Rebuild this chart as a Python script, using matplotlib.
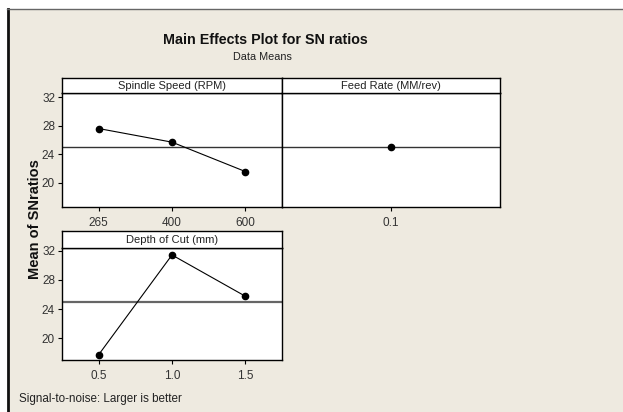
import matplotlib
matplotlib.use("Agg")
import matplotlib.pyplot as plt
from matplotlib.patches import Rectangle
from matplotlib.lines import Line2D

plt.rcParams['font.family'] = ['Liberation Sans', 'DejaVu Sans']

# ---- data ----
spindle_levels = ["265", "400", "600"]
spindle_sn = [27.6, 25.7, 21.6]
feed_levels = ["0.1"]
feed_sn = [24.97]
depth_levels = ["0.5", "1.0", "1.5"]
depth_sn = [17.7, 31.45, 25.76]
grand_mean = 24.97
yticks = [20, 24, 28, 32]

W, H = 623, 412
fig = plt.figure(figsize=(W / 100, H / 100), dpi=100)
fig.patch.set_facecolor('white')
BG = '#EEEAE0'

def fx(px):
    return px / W

def fy(py):
    return 1 - py / H

# beige background with frame lines (left dark, top gray)
fig.patches.append(Rectangle((fx(8), 0), 1 - fx(8), fy(9), transform=fig.transFigure,
                             facecolor=BG, edgecolor='none', zorder=-10))
fig.lines.append(Line2D([fx(8), fx(8)], [0, fy(8.5)], transform=fig.transFigure,
                        color='#111111', lw=2.0))
fig.lines.append(Line2D([fx(7), 1], [fy(8.5), fy(8.5)], transform=fig.transFigure,
                        color='#666666', lw=1.0))

def make_panel(x0, x1, ytop, yhead, ybot, levels, vals, title, ylim, show_y, mean_style):
    ax = fig.add_axes([fx(x0), fy(ybot), fx(x1 - x0), (ybot - yhead) / H])
    hx = fig.add_axes([fx(x0), fy(yhead), fx(x1 - x0), (yhead - ytop) / H])
    hx.set_xticks([]); hx.set_yticks([])
    hx.set_facecolor('white')
    for s in hx.spines.values():
        s.set_color('black'); s.set_linewidth(1.0)
    hx.text(0.5, 0.45, title, ha='center', va='center', fontsize=8, color='#222222',
            transform=hx.transAxes)
    pos = list(range(len(levels)))
    ax.axhline(grand_mean, color=mean_style[0], lw=mean_style[1], zorder=1)
    ax.plot(pos, vals, color='black', lw=0.8, marker='o', ms=4.5, zorder=3)
    n = len(levels)
    ax.set_xlim(-0.5, n - 0.5)
    ax.set_ylim(*ylim)
    ax.set_xticks(pos)
    ax.set_xticklabels(levels)
    ax.set_facecolor('white')
    for s in ax.spines.values():
        s.set_color('black'); s.set_linewidth(1.0)
    ax.tick_params(axis='x', direction='out', length=3, width=0.8, pad=4,
                   labelsize=8.5, labelcolor='#333333')
    if show_y:
        ax.set_yticks(yticks)
        ax.tick_params(axis='y', direction='out', length=3, width=0.8, pad=2,
                       labelsize=8.5, labelcolor='#333333')
    else:
        ax.set_yticks([])
    return ax

make_panel(62, 282, 78, 93, 207, spindle_levels, spindle_sn, "Spindle Speed (RPM)",
           (16.65, 32.56), True, ('#333333', 1.0))
make_panel(282, 500, 78, 93, 207, feed_levels, feed_sn, "Feed Rate (MM/rev)",
           (16.65, 32.56), False, ('#333333', 1.0))
make_panel(62, 282, 231, 248, 360, depth_levels, depth_sn, "Depth of Cut (mm)",
           (16.97, 32.41), True, ('#666666', 1.6))

fig.text(fx(265), fy(40), "Main Effects Plot for SN ratios", ha='center', va='center',
         fontsize=10.3, fontweight='bold', color='#111111')
fig.text(fx(262), fy(57), "Data Means", ha='center', va='center', fontsize=7.8,
         color='#222222')
fig.text(fx(35), fy(219), "Mean of SNratios", ha='center', va='center', rotation=90,
         fontsize=10.5, fontweight='bold', color='#111111')
fig.text(fx(19), fy(399), "Signal-to-noise: Larger is better", ha='left', va='center',
         fontsize=8.4, color='#222222')

fig.savefig("out.png", dpi=100, facecolor=fig.get_facecolor())
